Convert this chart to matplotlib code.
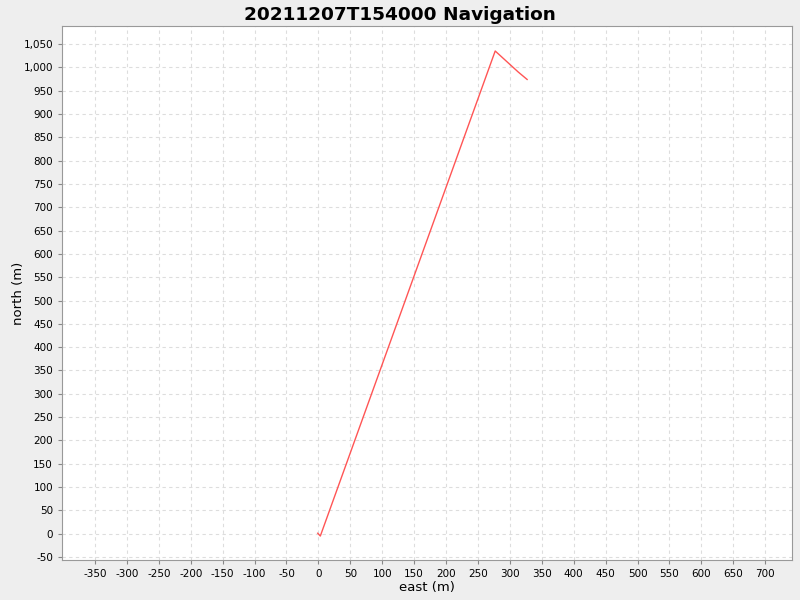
import matplotlib
matplotlib.use("Agg")
import matplotlib.pyplot as plt
from matplotlib.ticker import FuncFormatter

east = [-1, 3, 277, 313, 327]
north = [1, -5, 1035, 990, 974]
xticks = list(range(-350, 701, 50))
yticks = list(range(-50, 1051, 50))

fig = plt.figure(figsize=(8, 6), dpi=100, facecolor="#EEEEEE")
ax = fig.add_axes([62/800, 40/600, 730/800, 534/600])
ax.set_facecolor("white")
ax.plot(east, north, color="#FF5555", linewidth=1.0)
ax.set_xlim(-401.7, 742)
ax.set_ylim(-56.4, 1088.6)
ax.set_xticks(xticks)
ax.set_yticks(yticks)
fmt = FuncFormatter(lambda v, p: f"{int(round(v)):,}")
ax.xaxis.set_major_formatter(fmt)
ax.yaxis.set_major_formatter(fmt)
ax.grid(True, color="#DDDDDD", linestyle=(0, (3, 3)), linewidth=0.8)
for s in ax.spines.values():
    s.set_color("#999999")
ax.tick_params(colors="#888888", labelcolor="black", labelsize=7.5, length=3)
ax.set_xlabel("east (m)", fontsize=9.5)
ax.xaxis.set_label_coords(0.5, -20.5/534)
ax.xaxis.label.set_va("top")
ax.set_ylabel("north (m)", fontsize=9.5)
ax.yaxis.set_label_coords(-37/730, 0.5)
fig.suptitle("20211207T154000 Navigation", fontsize=13.3, fontweight="bold", y=0.99)
fig.savefig("out.png", dpi=100, facecolor=fig.get_facecolor())
